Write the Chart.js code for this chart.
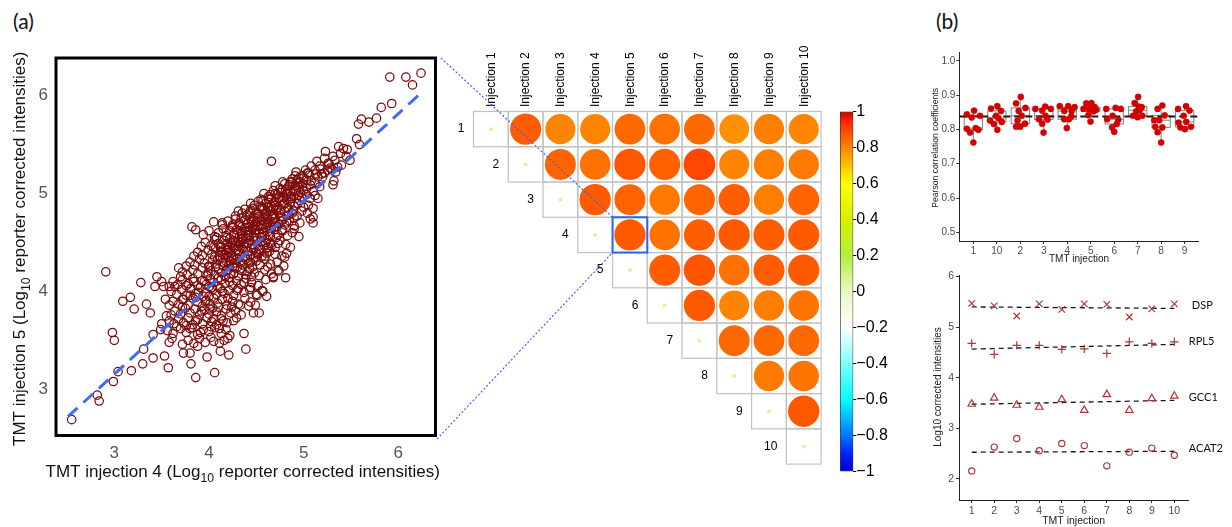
<!DOCTYPE html>
<html>
<head>
<meta charset="utf-8">
<script src="https://cdn.jsdelivr.net/npm/chart.js@4.4.1/dist/chart.umd.min.js"></script>
<style>
  html, body { margin: 0; padding: 0; background: #fff; }
  #page { position: relative; width: 1232px; height: 527px; overflow: hidden; background: #fff; }
  #page canvas { position: absolute; }
  .panel-tag { position: absolute; font-family: Lato, 'Liberation Sans', sans-serif; font-size: 21px; line-height: 1; color: #111; }
</style>
</head>
<body>
<div id="page">
  <div class="panel-tag" style="left:13px; top:10px;">(a)</div>
  <div class="panel-tag" style="left:936px; top:10px;">(b)</div>
  <canvas id="scatter" width="445" height="500" style="left:0; top:0;"></canvas>
  <canvas id="matrix" width="392" height="440" style="left:445px; top:40px;"></canvas>
  <canvas id="colorbar" width="60" height="385" style="left:836px; top:100px;"></canvas>
  <canvas id="pearson" width="307" height="225" style="left:925px; top:40px;"></canvas>
  <canvas id="genes" width="307" height="265" style="left:925px; top:262px;"></canvas>
  <canvas id="links" width="1232" height="527" style="left:0; top:0; pointer-events:none;"></canvas>
</div>
<script>
// ---------------- data ----------------

// (a) left: protein log10 reporter intensities, injection 4 vs injection 5
const scatterPairs = [
  [2.55,2.69],[2.82,2.94],[2.84,2.88],[2.99,3.08],[2.98,3.58],[3.00,3.50],[2.91,4.20],[3.04,3.18],[3.18,3.19],
  [3.09,3.90],[3.17,3.94],[3.21,3.82],[3.28,4.09],[3.34,3.87],[3.38,3.78],[3.30,3.26],[3.31,3.41],[3.41,3.32],
  [3.41,3.56],[3.45,4.15],[3.43,4.05],[3.50,4.10],[3.52,4.05],[3.53,3.34],[3.57,3.22],[3.58,3.48],[3.50,3.67],
  [3.49,3.61],[3.55,3.75],[3.54,3.92],[3.61,3.52],[3.73,3.37],[3.80,3.37],[3.81,3.26],[3.86,3.12],[3.88,3.44],
  [3.98,3.33],[4.06,3.17],[4.05,3.49],[4.11,3.47],[4.12,3.39],[4.21,3.35],[4.16,3.50],[4.20,3.52],[4.37,3.57],
  [4.39,3.41],[3.82,4.66],[3.86,4.63],[4.05,4.71],[4.14,4.68],[3.94,4.58],[4.66,5.33],[4.53,3.78],[4.47,3.78],
  [4.42,3.85],[4.61,3.95],[4.56,4.01],[4.51,3.96],[4.81,4.14],[4.73,4.22],[4.68,4.15],[4.80,4.35],[4.95,4.56],
  [4.90,4.64],[5.07,4.74],[5.10,4.76],[5.10,4.70],[5.15,4.95],[5.10,4.85],[5.31,5.09],[5.32,5.13],[5.34,5.22],
  [5.23,5.43],[5.31,5.38],[5.37,5.48],[5.42,5.46],[5.46,5.45],[5.49,5.34],[5.45,5.38],[5.39,5.41],[5.56,5.56],
  [5.59,5.50],[5.58,5.71],[5.61,5.76],[5.69,5.73],[5.77,5.77],[5.82,5.88],[5.93,5.92],[5.91,6.19],[6.08,6.19],
  [6.15,6.11],[6.24,6.23],[5.28,5.26],[5.17,5.28],[5.12,5.24],[5.05,5.21],[5.20,5.17],[5.26,5.31],[4.95,5.16],
  [4.85,5.09],[4.70,5.00],[4.86,4.97],[4.94,5.11],
  [4.92,5.22],[4.98,5.18],[5.02,5.24],[5.06,5.19],[5.13,5.20],[5.18,5.25],[5.22,5.21],[5.25,5.24],[4.88,5.15],
  [5.00,5.16],[5.08,5.13],[5.15,5.17],[5.30,5.25],[5.36,5.27],[5.40,5.29],[4.96,5.12],[5.04,5.21],
  [4.75,5.05],[4.80,5.10],[4.84,5.07],[4.88,5.12],[4.91,5.08],[4.95,5.06],[4.99,5.10],[5.03,5.05],[5.07,5.09],
  [5.12,5.11],[5.17,5.07],[4.70,5.08],[4.86,5.02],[5.00,5.03],[5.10,5.02],[4.93,5.14],[4.78,5.12],
  [4.58,5.00],[4.63,4.97],[4.68,5.03],[4.72,4.99],[4.76,5.01],[4.79,4.96],[4.83,5.00],[4.87,4.97],[4.90,5.02],
  [4.94,4.98],[4.98,4.96],[5.03,4.99],[5.07,4.95],[4.66,4.95],[4.74,4.95],[4.81,5.04],[4.92,4.95],[5.12,4.98],
  [4.48,4.88],[4.52,4.92],[4.56,4.86],[4.60,4.90],[4.63,4.94],[4.66,4.87],[4.70,4.91],[4.73,4.86],[4.76,4.93],
  [4.79,4.89],[4.83,4.85],[4.86,4.91],[4.90,4.87],[4.94,4.90],[5.00,4.86],[5.05,4.88],[4.55,4.94],[4.68,4.85],
  [4.82,4.94],[4.96,4.93],[4.44,4.90],[4.62,4.86],
  [4.35,4.80],[4.40,4.78],[4.44,4.83],[4.47,4.76],[4.50,4.81],[4.53,4.77],[4.56,4.84],[4.59,4.79],[4.62,4.76],
  [4.65,4.82],[4.68,4.78],[4.71,4.84],[4.74,4.80],[4.77,4.76],[4.80,4.82],[4.84,4.78],[4.88,4.80],[4.93,4.77],
  [4.98,4.82],[5.04,4.80],[4.28,4.77],[4.58,4.84],[4.46,4.85],[4.66,4.76],[4.90,4.75],[4.31,4.82],[4.38,4.84],
  [4.20,4.72],[4.25,4.68],[4.28,4.74],[4.32,4.70],[4.35,4.66],[4.38,4.73],[4.41,4.69],[4.44,4.74],[4.47,4.67],
  [4.50,4.71],[4.53,4.66],[4.56,4.73],[4.59,4.69],[4.62,4.74],[4.65,4.67],[4.68,4.71],[4.72,4.66],[4.76,4.72],
  [4.80,4.68],[4.85,4.72],[4.90,4.67],[4.96,4.70],[4.14,4.70],[4.42,4.66],[4.51,4.75],[4.60,4.65],[4.70,4.75],
  [4.34,4.75],[4.24,4.66],
  [4.10,4.60],[4.15,4.64],[4.18,4.57],[4.22,4.62],[4.26,4.58],[4.29,4.63],[4.32,4.56],[4.35,4.61],[4.38,4.65],
  [4.41,4.58],[4.44,4.62],[4.47,4.56],[4.50,4.63],[4.53,4.59],[4.56,4.64],[4.59,4.57],[4.62,4.61],[4.65,4.56],
  [4.69,4.63],[4.73,4.58],[4.78,4.62],[4.83,4.57],[4.88,4.60],[4.00,4.62],[4.06,4.56],[4.36,4.55],[4.46,4.65],
  [4.55,4.55],[4.66,4.65],[4.25,4.65],
  [3.96,4.50],[4.02,4.47],[4.06,4.53],[4.10,4.49],[4.13,4.46],[4.16,4.52],[4.19,4.48],[4.22,4.54],[4.25,4.47],
  [4.28,4.51],[4.31,4.46],[4.34,4.53],[4.37,4.49],[4.40,4.45],[4.43,4.52],[4.46,4.48],[4.49,4.54],[4.52,4.46],
  [4.55,4.51],[4.58,4.47],[4.61,4.53],[4.65,4.49],[4.70,4.45],[4.75,4.52],[4.81,4.48],[4.86,4.45],[3.92,4.46],
  [4.20,4.45],[4.39,4.55],[4.63,4.45],[4.08,4.55],
  [3.88,4.40],[3.93,4.37],[3.99,4.42],[4.03,4.38],[4.07,4.44],[4.11,4.36],[4.14,4.41],[4.17,4.37],[4.20,4.43],
  [4.23,4.39],[4.26,4.35],[4.29,4.42],[4.32,4.38],[4.35,4.44],[4.38,4.36],[4.41,4.41],[4.44,4.37],[4.47,4.43],
  [4.51,4.38],[4.55,4.42],[4.59,4.36],[4.64,4.41],[4.70,4.38],[4.77,4.36],[4.82,4.39],[3.84,4.36],[4.12,4.45],
  [4.27,4.45],[4.49,4.35],[4.61,4.44],
  [3.80,4.30],[3.85,4.27],[3.90,4.33],[3.95,4.29],[4.00,4.26],[4.04,4.32],[4.08,4.28],[4.12,4.34],[4.15,4.26],
  [4.18,4.31],[4.21,4.27],[4.24,4.33],[4.27,4.29],[4.30,4.25],[4.33,4.31],[4.36,4.27],[4.39,4.33],[4.42,4.29],
  [4.46,4.25],[4.50,4.31],[4.54,4.27],[4.59,4.33],[4.65,4.28],[4.72,4.30],[4.79,4.26],[3.76,4.26],[4.06,4.35],
  [4.20,4.35],[4.47,4.34],[4.62,4.25],
  [3.72,4.20],[3.77,4.17],[3.83,4.22],[3.88,4.18],[3.93,4.24],[3.98,4.16],[4.02,4.21],[4.06,4.17],[4.10,4.23],
  [4.13,4.19],[4.17,4.15],[4.20,4.22],[4.23,4.18],[4.27,4.24],[4.31,4.16],[4.35,4.21],[4.39,4.17],[4.43,4.23],
  [4.48,4.19],[4.53,4.16],[4.59,4.22],[4.66,4.18],[4.74,4.21],[3.68,4.24],[4.45,4.15],[4.00,4.25],[4.25,4.25],
  [3.62,4.10],[3.67,4.07],[3.72,4.12],[3.78,4.08],[3.83,4.13],[3.88,4.06],[3.93,4.11],[3.97,4.07],[4.01,4.13],
  [4.05,4.09],[4.09,4.05],[4.13,4.12],[4.17,4.08],[4.21,4.14],[4.25,4.06],[4.29,4.11],[4.34,4.07],[4.39,4.13],
  [4.45,4.09],[4.52,4.06],[4.60,4.12],[4.68,4.14],[3.70,4.15],[3.58,4.05],[4.00,4.05],
  [3.60,4.00],[3.66,3.97],[3.71,4.02],[3.76,3.96],[3.81,4.03],[3.86,3.98],[3.91,4.04],[3.96,3.99],[4.00,3.95],
  [4.04,4.02],[4.08,3.97],[4.12,4.03],[4.16,3.98],[4.21,4.01],[4.26,3.96],[4.31,4.03],[4.37,3.99],[4.43,4.02],
  [4.50,3.97],[4.57,4.00],[3.64,4.05],[3.94,3.95],
  [3.62,3.90],[3.68,3.87],[3.73,3.92],[3.78,3.86],[3.83,3.93],[3.88,3.89],[3.93,3.85],[3.97,3.91],[4.01,3.87],
  [4.05,3.93],[4.09,3.88],[4.14,3.92],[4.19,3.86],[4.25,3.90],[4.31,3.87],[4.38,3.93],[4.44,3.89],[4.49,3.86],
  [3.58,3.86],[3.86,3.94],
  [3.64,3.80],[3.70,3.77],[3.75,3.83],[3.80,3.78],[3.85,3.82],[3.90,3.76],[3.95,3.81],[4.00,3.77],[4.04,3.83],
  [4.08,3.79],[4.13,3.75],[4.18,3.82],[4.23,3.78],[4.28,3.80],[4.34,3.76],[3.72,3.84],[3.60,3.76],
  [3.58,3.70],[3.63,3.67],[3.68,3.72],[3.73,3.68],[3.78,3.73],[3.83,3.66],[3.88,3.71],[3.93,3.67],[3.98,3.73],
  [4.03,3.69],[4.08,3.66],[4.13,3.72],[4.19,3.68],[4.26,3.70],[3.76,3.65],
  [3.56,3.60],[3.62,3.57],[3.70,3.62],[3.76,3.58],[3.82,3.63],[3.88,3.56],[3.94,3.61],[4.00,3.59],[4.06,3.63],
  [4.13,3.57],[4.18,3.61],[3.66,3.64],
  [3.78,3.50],[3.84,3.47],[3.90,3.52],[3.96,3.48],[4.02,3.53],[4.22,3.55],[3.72,3.46],
  [4.21,4.40],[4.24,4.36],[4.28,4.47],[4.31,4.41],[4.33,4.50],[4.36,4.43],[4.40,4.49],[4.42,4.57],[4.45,4.44],
  [4.48,4.60],[4.50,4.52],[4.53,4.43],[4.55,4.68],[4.57,4.60],[4.60,4.50],[4.62,4.70],[4.64,4.58],[4.67,4.78],
  [4.69,4.66],[4.71,4.55],[4.74,4.69],[4.76,4.83],[4.78,4.73],[4.80,4.90],[4.82,4.71],[4.84,4.85],[4.87,4.95],
  [4.89,4.82],[4.92,5.04],[4.97,5.01],
  [4.15,4.30],[4.18,4.42],[4.22,4.31],[4.26,4.52],[4.30,4.34],[4.34,4.59],[4.37,4.31],[4.41,4.62],[4.44,4.30],
  [4.47,4.71],[4.50,4.40],[4.52,4.79],[4.56,4.36],[4.58,4.75],[4.61,4.39],[4.63,4.86],[4.66,4.47],[4.69,4.91],
  [4.73,4.49],[4.77,4.63],
  [3.95,4.10],[3.99,4.19],[4.03,4.04],[4.07,4.25],[4.10,4.14],[4.14,4.00],[4.18,4.21],[4.22,4.10],[4.26,4.18],
  [4.30,4.01],[4.33,4.22],[4.37,4.09],[4.41,4.20],[4.44,4.04],
  [3.72,3.92],[3.76,4.06],[3.80,3.96],[3.84,4.10],[3.89,3.99],[3.92,3.80],[3.96,3.90],[4.01,3.82],[4.05,3.72],
  [4.10,3.84],[4.15,3.70],[4.20,3.93],[4.24,3.84],[4.29,3.73],[4.33,3.86],[3.86,3.70],[3.80,3.62],[3.91,3.58],
  [4.02,3.64],[4.11,3.62],
  [4.45,4.72],[4.49,4.66],[4.54,4.87],[4.57,4.93],[4.61,4.80],[4.65,4.99],[4.70,4.88],[4.73,4.95],[4.77,5.04],
  [4.82,5.00],[4.86,5.12],[4.91,5.18],[4.99,5.07],[5.03,5.14],[5.08,5.28],[5.14,5.33],[5.19,5.20],[5.22,5.36],
  [5.27,5.30],[5.33,5.34],
  [4.35,4.54],[4.39,4.62],[4.27,4.58],[4.23,4.50],[4.19,4.55],[4.32,4.68],[4.43,4.80],[4.12,4.40],[4.09,4.32],
  [4.05,4.45]
];
// ends of the dashed trend line (injection 4, injection 5)
const trendInj4 = [2.51, 6.22];
const trendInj5 = [2.72, 6.01];
const scatterTicks = [3, 4, 5, 6];

// (a) right: Pearson correlation between injections (upper triangle, row i: columns i+1..10)
const injections = [1, 2, 3, 4, 5, 6, 7, 8, 9, 10];
const corrUpper = [
  [0.86, 0.80, 0.80, 0.84, 0.83, 0.84, 0.78, 0.81, 0.80],
  [0.85, 0.83, 0.87, 0.855, 0.895, 0.80, 0.81, 0.815],
  [0.865, 0.85, 0.815, 0.85, 0.86, 0.81, 0.85],
  [0.865, 0.83, 0.86, 0.865, 0.86, 0.865],
  [0.86, 0.875, 0.83, 0.86, 0.865],
  [0.865, 0.80, 0.81, 0.825],
  [0.845, 0.84, 0.84],
  [0.815, 0.825],
  [0.87]
];
const highlightRow = 4, highlightCol = 5;
const colorbarTicks = [-1, -0.8, -0.6, -0.4, -0.2, 0, 0.2, 0.4, 0.6, 0.8, 1];
const colorStops = [
  [-1, '#0000cc'], [-0.9, '#0022ff'], [-0.8, '#0077ff'], [-0.6, '#00ffff'], [-0.2, '#ffffff'],
  [0, '#e8f8c4'], [0.2, '#b4ef3e'], [0.4, '#d6f000'], [0.6, '#ffff00'], [0.8, '#ff8400'],
  [0.95, '#ff2300'], [1, '#c40000']
];

// (b) top: Pearson coefficients per injection (axis order as sorted labels)
const pearsonOrder = ['1', '10', '2', '3', '4', '5', '6', '7', '8', '9'];
const pearsonValues = [
  [0.844, 0.855, 0.840, 0.835, 0.802, 0.791, 0.804, 0.799, 0.762],
  [0.861, 0.868, 0.854, 0.840, 0.826, 0.816, 0.822, 0.799, 0.833],
  [0.895, 0.876, 0.863, 0.854, 0.840, 0.808, 0.808, 0.817, 0.826],
  [0.860, 0.855, 0.867, 0.860, 0.840, 0.830, 0.829, 0.817, 0.791],
  [0.868, 0.854, 0.868, 0.865, 0.854, 0.830, 0.830, 0.804, 0.838],
  [0.876, 0.877, 0.860, 0.860, 0.865, 0.853, 0.842, 0.823, 0.857],
  [0.860, 0.863, 0.860, 0.830, 0.840, 0.828, 0.806, 0.793, 0.816],
  [0.895, 0.877, 0.856, 0.865, 0.840, 0.836, 0.840, 0.853, 0.867],
  [0.860, 0.870, 0.841, 0.827, 0.827, 0.806, 0.792, 0.762, 0.808],
  [0.860, 0.868, 0.855, 0.840, 0.820, 0.822, 0.806, 0.801, 0.808]
];
// horizontal jitter of each dot (fraction of a category step)
const pearsonJitter = [
  [-0.28, 0.03, 0.28, -0.07, -0.28, -0.14, 0.10, 0.21, 0.00],
  [-0.25, 0.02, 0.18, -0.03, -0.29, -0.13, 0.21, 0.02, 0.07],
  [0.02, -0.18, 0.22, -0.07, 0.06, -0.18, 0.00, 0.20, -0.12],
  [-0.36, -0.07, 0.06, 0.30, 0.07, -0.21, 0.16, -0.07, -0.01],
  [-0.32, -0.13, 0.04, 0.31, 0.19, -0.13, 0.07, -0.02, 0.17],
  [-0.19, 0.03, -0.31, -0.08, 0.17, 0.12, -0.10, -0.01, 0.23],
  [-0.34, 0.06, 0.28, -0.30, -0.07, 0.17, -0.09, 0.00, 0.11],
  [0.02, -0.13, 0.08, 0.17, -0.20, 0.00, 0.20, -0.06, 0.04],
  [-0.15, 0.05, 0.15, -0.29, -0.08, 0.05, -0.15, 0.00, -0.25],
  [-0.28, 0.06, 0.21, -0.04, -0.26, 0.07, -0.18, 0.01, 0.27]
];
const pearsonTicks = [0.5, 0.6, 0.7, 0.8, 0.9, 1.0];

// (b) bottom: log10 corrected intensities of four proteins across injections
const geneNames = ['DSP', 'RPL5', 'GCC1', 'ACAT2'];
const dspLog   = [5.47, 5.42, 5.22, 5.46, 5.35, 5.46, 5.45, 5.20, 5.36, 5.46];
const rpl5Log  = [4.68, 4.46, 4.64, 4.64, 4.56, 4.57, 4.48, 4.71, 4.68, 4.71];
const gcc1Log  = [3.48, 3.60, 3.46, 3.42, 3.57, 3.36, 3.67, 3.36, 3.59, 3.64];
const acat2Log = [2.16, 2.63, 2.80, 2.56, 2.70, 2.66, 2.26, 2.53, 2.61, 2.47];
const intensityTicks = [2, 3, 4, 5, 6];

// ---------------- helpers ----------------
Chart.defaults.font.family = "'Liberation Sans', Arial, Helvetica, sans-serif";
Chart.defaults.color = '#4d4d4d';

function hexToRgb(h) {
  const n = parseInt(h.slice(1), 16);
  return [(n >> 16) & 255, (n >> 8) & 255, n & 255];
}
function corrColor(v) {
  for (let i = 1; i < colorStops.length; i++) {
    const [v0, c0] = colorStops[i - 1], [v1, c1] = colorStops[i];
    if (v <= v1) {
      const t = (v - v0) / (v1 - v0);
      const a = hexToRgb(c0), b = hexToRgb(c1);
      const m = a.map((x, k) => Math.round(x + (b[k] - x) * t));
      return `rgb(${m[0]},${m[1]},${m[2]})`;
    }
  }
  return colorStops[colorStops.length - 1][1];
}
function quantile(sorted, p) {
  const h = (sorted.length - 1) * p, lo = Math.floor(h), hi = Math.ceil(h);
  return sorted[lo] + (sorted[hi] - sorted[lo]) * (h - lo);
}
function linearFit(xs, ys) {
  const n = xs.length;
  const mx = xs.reduce((a, b) => a + b, 0) / n, my = ys.reduce((a, b) => a + b, 0) / n;
  let sxy = 0, sxx = 0;
  xs.forEach((x, i) => { sxy += (x - mx) * (ys[i] - my); sxx += (x - mx) * (x - mx); });
  const m = sxy / sxx;
  return { m, b: my - m * mx };
}
// text with a subscript part, centred at (cx, cy), optionally rotated
function drawSubscriptText(ctx, parts, cx, cy, angle, size, color) {
  const subSize = size * 0.72;
  ctx.save();
  ctx.fillStyle = color;
  ctx.textBaseline = 'middle';
  ctx.textAlign = 'left';
  const fam = Chart.defaults.font.family;
  const widths = parts.map((p, i) => { ctx.font = `${i === 1 ? subSize : size}px ${fam}`; return ctx.measureText(p).width; });
  const total = widths.reduce((a, b) => a + b, 0);
  ctx.translate(cx, cy);
  ctx.rotate(angle);
  let x = -total / 2;
  parts.forEach((p, i) => {
    ctx.font = `${i === 1 ? subSize : size}px ${fam}`;
    ctx.fillText(p, x, i === 1 ? size * 0.36 : 0);
    x += widths[i];
  });
  ctx.restore();
}
function fixedTicks(values) {
  return scale => { scale.ticks = values.map(v => ({ value: v })); };
}
const baseOptions = {
  responsive: false, animation: false, devicePixelRatio: 1,
  plugins: { legend: { display: false }, tooltip: { enabled: false } }
};

// ---------------- (a) scatter ----------------
const scatterDecor = {
  id: 'scatterDecor',
  afterDraw(chart) {
    const { ctx, chartArea: a } = chart;
    ctx.save();
    ctx.strokeStyle = '#000';
    ctx.lineWidth = 3;
    ctx.strokeRect(a.left, a.top, a.right - a.left, a.bottom - a.top);
    ctx.restore();
    drawSubscriptText(ctx, ['TMT injection 4 (Log', '10', ' reporter corrected intensities)'],
      (a.left + a.right) / 2 - 3, a.bottom + 37, 0, 17, '#111');
    drawSubscriptText(ctx, ['TMT injection 5 (Log', '10', ' reporter corrected intensities)'],
      20, (a.top + a.bottom) / 2 + 2, -Math.PI / 2, 17, '#111');
  }
};
const scatterChart = new Chart(document.getElementById('scatter'), {
  type: 'scatter',
  data: {
    datasets: [
      {
        type: 'line',
        data: trendInj4.map((x, i) => ({ x, y: trendInj5[i] })),
        borderColor: '#3e6cf6', borderWidth: 3, borderDash: [13, 8], pointRadius: 0, fill: false
      },
      {
        data: scatterPairs.map(([x, y]) => ({ x, y })),
        pointStyle: 'circle', pointRadius: 4.2, pointBorderWidth: 1.25,
        pointBorderColor: '#7d0b0b', pointBackgroundColor: 'rgba(0,0,0,0)'
      }
    ]
  },
  options: {
    ...baseOptions,
    layout: { padding: { top: 58, right: 9.5, left: 0, bottom: 0 } },
    scales: {
      x: {
        type: 'linear', min: 2.384, max: 6.393,
        afterFit: s => { s.height = 64.5; },
        afterBuildTicks: fixedTicks(scatterTicks),
        grid: { display: false, drawTicks: false }, border: { display: false },
        ticks: { color: '#555', font: { size: 17 }, padding: 8 }
      },
      y: {
        type: 'linear', min: 2.528, max: 6.385,
        afterFit: s => { s.width = 56; },
        afterBuildTicks: fixedTicks(scatterTicks),
        grid: { display: false, drawTicks: false }, border: { display: false },
        ticks: { color: '#555', font: { size: 17 }, padding: 8 }
      }
    }
  },
  plugins: [scatterDecor]
});

// ---------------- (a) correlation matrix ----------------
const matrixPoints = [];
corrUpper.forEach((row, i) => row.forEach((v, k) => matrixPoints.push({ x: i + 2 + k, y: i + 1, v })));
const circleMaxR = 16.8;
const matrixDecor = {
  id: 'matrixDecor',
  beforeDatasetsDraw(chart) {
    const { ctx, scales: { x, y } } = chart;
    ctx.save();
    ctx.strokeStyle = '#c2c2c2';
    ctx.lineWidth = 1.2;
    injections.forEach(r => injections.forEach(c => {
      if (c < r) return;
      const l = x.getPixelForValue(c - 0.5), rt = x.getPixelForValue(c + 0.5);
      const t = y.getPixelForValue(r - 0.5), b = y.getPixelForValue(r + 0.5);
      ctx.strokeRect(l, t, rt - l, b - t);
    }));
    ctx.fillStyle = '#000';
    ctx.font = `12px ${Chart.defaults.font.family}`;
    ctx.textBaseline = 'middle';
    ctx.textAlign = 'right';
    injections.forEach(r => ctx.fillText(String(r), x.getPixelForValue(r - 0.5) - 9, y.getPixelForValue(r)));
    ctx.textAlign = 'left';
    injections.forEach(c => {
      ctx.save();
      ctx.translate(x.getPixelForValue(c) + 0.5, y.getPixelForValue(0.5) - 4.5);
      ctx.rotate(-Math.PI / 2);
      ctx.fillText('Injection ' + c, 0, 0);
      ctx.restore();
    });
    ctx.restore();
  },
  afterDatasetsDraw(chart) {
    const { ctx, scales: { x, y } } = chart;
    const l = x.getPixelForValue(highlightCol - 0.5), rt = x.getPixelForValue(highlightCol + 0.5);
    const t = y.getPixelForValue(highlightRow - 0.5), b = y.getPixelForValue(highlightRow + 0.5);
    ctx.save();
    ctx.strokeStyle = '#2a62ff';
    ctx.lineWidth = 2;
    ctx.strokeRect(l, t, rt - l, b - t);
    ctx.restore();
  }
};
const matrixChart = new Chart(document.getElementById('matrix'), {
  type: 'scatter',
  data: {
    datasets: [
      {
        data: matrixPoints,
        pointRadius: c => circleMaxR * Math.sqrt(Math.abs(c.raw.v)),
        pointBackgroundColor: c => corrColor(c.raw.v),
        pointBorderWidth: 0
      },
      {
        data: injections.map(n => ({ x: n, y: n })),
        pointRadius: 2, pointBackgroundColor: '#d6f5a2', pointBorderWidth: 0
      }
    ]
  },
  options: {
    ...baseOptions,
    layout: { padding: { left: 28.5, top: 71.5, right: 3.5, bottom: 8.5 } },
    scales: {
      x: { type: 'linear', min: 0.5, max: 10.5, display: false },
      y: { type: 'linear', min: 0.5, max: 10.5, reverse: true, display: false }
    }
  },
  plugins: [matrixDecor]
});

// ---------------- (a) colour bar ----------------
const colorbarChart = new Chart(document.getElementById('colorbar'), {
  type: 'bar',
  data: {
    labels: ['r'],
    datasets: [{
      data: [[-1, 1]],
      backgroundColor: c => {
        const { chart } = c;
        const ys = chart.scales.y;
        if (!chart.chartArea || !ys) return '#ff8c00';
        const g = chart.ctx.createLinearGradient(0, ys.getPixelForValue(-1), 0, ys.getPixelForValue(1));
        colorStops.forEach(([v, col]) => g.addColorStop((v + 1) / 2, col));
        return g;
      },
      borderColor: '#3a3a3a', borderWidth: 1, borderSkipped: false,
      barPercentage: 1, categoryPercentage: 1
    }]
  },
  options: {
    ...baseOptions,
    layout: { padding: { left: 4, top: 11.5, bottom: 13.5, right: 0 } },
    scales: {
      x: { display: false },
      y: {
        position: 'right', min: -1, max: 1,
        afterFit: s => { s.width = 42.7; },
        afterBuildTicks: fixedTicks(colorbarTicks),
        grid: { drawOnChartArea: false, drawTicks: true, tickLength: 3, color: '#000', lineWidth: 1 },
        border: { display: false },
        ticks: {
          color: '#000', font: { size: 16 }, padding: 0,
          callback: v => {
            const r = Math.round(v * 10) / 10;
            return r < 0 ? '\u2212' + String(Math.abs(r)) : String(r);
          }
        }
      }
    }
  }
});

// ---------------- (b) top: Pearson coefficients ----------------
const pearsonPoints = [];
pearsonValues.forEach((vals, i) => vals.forEach((v, k) => pearsonPoints.push({ x: i + pearsonJitter[i][k], y: v })));
const allPearson = pearsonValues.flat();
const pearsonMean = allPearson.reduce((a, b) => a + b, 0) / allPearson.length;
const pearsonXMin = -0.6, pearsonXMax = 9.6, boxHalf = 0.39;
const pearsonDecor = {
  id: 'pearsonDecor',
  beforeDatasetsDraw(chart) {
    const { ctx, scales: { x, y } } = chart;
    ctx.save();
    ctx.strokeStyle = '#8c8c8c';
    ctx.lineWidth = 1.1;
    pearsonValues.forEach((vals, i) => {
      const s = [...vals].sort((a, b) => a - b);
      const q1 = quantile(s, 0.25), med = quantile(s, 0.5), q3 = quantile(s, 0.75), iqr = q3 - q1;
      const lo = s.find(v => v >= q1 - 1.5 * iqr);
      const hi = [...s].reverse().find(v => v <= q3 + 1.5 * iqr);
      const xl = x.getPixelForValue(i - boxHalf), xr = x.getPixelForValue(i + boxHalf), xc = x.getPixelForValue(i);
      ctx.beginPath();
      ctx.moveTo(xc, y.getPixelForValue(q3)); ctx.lineTo(xc, y.getPixelForValue(hi));
      ctx.moveTo(xc, y.getPixelForValue(q1)); ctx.lineTo(xc, y.getPixelForValue(lo));
      ctx.stroke();
      ctx.strokeRect(xl, y.getPixelForValue(q3), xr - xl, y.getPixelForValue(q1) - y.getPixelForValue(q3));
      ctx.beginPath();
      ctx.moveTo(xl, y.getPixelForValue(med)); ctx.lineTo(xr, y.getPixelForValue(med));
      ctx.stroke();
    });
    ctx.restore();
  },
  afterDraw(chart) {
    const { ctx, chartArea: a } = chart;
    ctx.save();
    ctx.fillStyle = '#222';
    ctx.textAlign = 'center';
    ctx.textBaseline = 'middle';
    ctx.font = `10px ${Chart.defaults.font.family}`;
    ctx.fillText('TMT injection', (a.left + a.right) / 2, a.bottom + 18);
    ctx.translate(10.5, (a.top + a.bottom) / 2 + 1);
    ctx.rotate(-Math.PI / 2);
    ctx.font = `8.6px ${Chart.defaults.font.family}`;
    ctx.fillText('Pearson correlation coefficients', 0, 0);
    ctx.restore();
  }
};
const pearsonChart = new Chart(document.getElementById('pearson'), {
  type: 'scatter',
  data: {
    datasets: [
      {
        data: pearsonPoints, pointRadius: 3.1, pointBackgroundColor: '#d40000',
        pointBorderColor: '#c00000', pointBorderWidth: 0.4
      },
      {
        type: 'line',
        data: [{ x: pearsonXMin, y: pearsonMean }, { x: pearsonXMax, y: pearsonMean }],
        borderColor: '#1a1a1a', borderWidth: 2.2, borderDash: [7, 4], pointRadius: 0, fill: false
      }
    ]
  },
  options: {
    ...baseOptions,
    layout: { padding: { top: 12.7, right: 33.3, left: 0, bottom: 0 } },
    scales: {
      x: {
        type: 'linear', min: pearsonXMin, max: pearsonXMax,
        afterFit: s => { s.height = 24; },
        afterBuildTicks: fixedTicks(pearsonOrder.map((_, i) => i)),
        grid: { drawOnChartArea: false, tickLength: 3, color: '#333' },
        border: { display: true, color: '#222', width: 1 },
        ticks: { font: { size: 10 }, color: '#4d4d4d', padding: 1, callback: v => pearsonOrder[v] }
      },
      y: {
        type: 'linear', min: 0.4746, max: 1.024,
        afterFit: s => { s.width = 34.3; },
        afterBuildTicks: fixedTicks(pearsonTicks),
        grid: { drawOnChartArea: false, tickLength: 3, color: '#333' },
        border: { display: true, color: '#222', width: 1 },
        ticks: { font: { size: 10 }, color: '#4d4d4d', padding: 1, callback: v => v.toFixed(1) }
      }
    }
  },
  plugins: [pearsonDecor]
});

// ---------------- (b) bottom: protein intensities ----------------
const geneSeries = [dspLog, rpl5Log, gcc1Log, acat2Log];
const geneMarkers = [
  { pointStyle: 'crossRot', pointRadius: 4.6 },
  { pointStyle: 'cross', pointRadius: 4.2 },
  { pointStyle: 'triangle', pointRadius: 4.3 },
  { pointStyle: 'circle', pointRadius: 3.1 }
];
const geneFits = geneSeries.map(vals => linearFit(injections, vals));
const geneColor = '#b03636';
const geneDatasets = [];
geneSeries.forEach((vals, g) => {
  geneDatasets.push({
    data: injections.map((x, i) => ({ x, y: vals[i] })),
    ...geneMarkers[g],
    pointBorderColor: geneColor, pointBackgroundColor: 'rgba(0,0,0,0)', pointBorderWidth: 1.2
  });
});
geneFits.forEach(f => {
  const x0 = injections[0], x1 = injections[injections.length - 1];
  geneDatasets.push({
    type: 'line',
    data: [{ x: x0, y: f.b + f.m * x0 }, { x: x1, y: f.b + f.m * x1 }],
    borderColor: '#1a1a1a', borderWidth: 1.3, borderDash: [5, 4], pointRadius: 0, fill: false
  });
});
const geneDecor = {
  id: 'geneDecor',
  afterDraw(chart) {
    const { ctx, chartArea: a, scales: { y } } = chart;
    ctx.save();
    ctx.fillStyle = '#111';
    ctx.textBaseline = 'middle';
    ctx.textAlign = 'left';
    ctx.font = '11px Lato, sans-serif';
    const xEnd = injections[injections.length - 1];
    geneFits.forEach((f, g) => {
      ctx.fillText(geneNames[g], a.right + (g === 0 ? 3.5 : 0.5), y.getPixelForValue(f.b + f.m * xEnd) - 3);
    });
    ctx.fillStyle = '#222';
    ctx.textAlign = 'center';
    ctx.font = `10.5px ${Chart.defaults.font.family}`;
    ctx.fillText('TMT injection', (a.left + a.right) / 2, a.bottom + 21.5);
    ctx.translate(13, (a.top + a.bottom) / 2 - 0.5);
    ctx.rotate(-Math.PI / 2);
    ctx.font = `10px ${Chart.defaults.font.family}`;
    ctx.fillText('Log10 corrected intensities', 0, 0);
    ctx.restore();
  }
};
const geneChart = new Chart(document.getElementById('genes'), {
  type: 'scatter',
  data: { datasets: geneDatasets },
  options: {
    ...baseOptions,
    layout: { padding: { top: 13, right: 43.7, left: 0, bottom: 0 } },
    scales: {
      x: {
        type: 'linear', min: 0.435, max: 10.62,
        afterFit: s => { s.height = 27; },
        afterBuildTicks: fixedTicks(injections),
        grid: { drawOnChartArea: false, tickLength: 3, color: '#333' },
        border: { display: true, color: '#222', width: 1 },
        ticks: { font: { size: 10.5 }, color: '#4d4d4d', padding: 2 }
      },
      y: {
        type: 'linear', min: 1.585, max: 6.03,
        afterFit: s => { s.width = 34; },
        afterBuildTicks: fixedTicks(intensityTicks),
        grid: { drawOnChartArea: false, tickLength: 3, color: '#333' },
        border: { display: true, color: '#222', width: 1 },
        ticks: { font: { size: 10.5 }, color: '#4d4d4d', padding: 2 }
      }
    }
  },
  plugins: [geneDecor]
});

// ---------------- dotted connectors: scatter frame -> highlighted matrix cell ----------------
(function drawLinks() {
  const cv = document.getElementById('links');
  const ctx = cv.getContext('2d');
  const sa = scatterChart.chartArea;
  const sOff = { x: scatterChart.canvas.offsetLeft, y: scatterChart.canvas.offsetTop };
  const mOff = { x: matrixChart.canvas.offsetLeft, y: matrixChart.canvas.offsetTop };
  const mx = matrixChart.scales.x, my = matrixChart.scales.y;
  const cellLeft = mOff.x + mx.getPixelForValue(highlightCol - 0.5);
  const cellTop = mOff.y + my.getPixelForValue(highlightRow - 0.5);
  const cellBottom = mOff.y + my.getPixelForValue(highlightRow + 0.5);
  ctx.strokeStyle = '#2a5cff';
  ctx.lineWidth = 1.1;
  ctx.setLineDash([2, 2]);
  ctx.beginPath();
  ctx.moveTo(sOff.x + sa.right + 5.5, sOff.y + sa.top);
  ctx.lineTo(cellLeft, cellTop);
  ctx.moveTo(sOff.x + sa.right + 1.5, sOff.y + sa.bottom + 3.5);
  ctx.lineTo(cellLeft, cellBottom);
  ctx.stroke();
})();
</script>
</body>
</html>
